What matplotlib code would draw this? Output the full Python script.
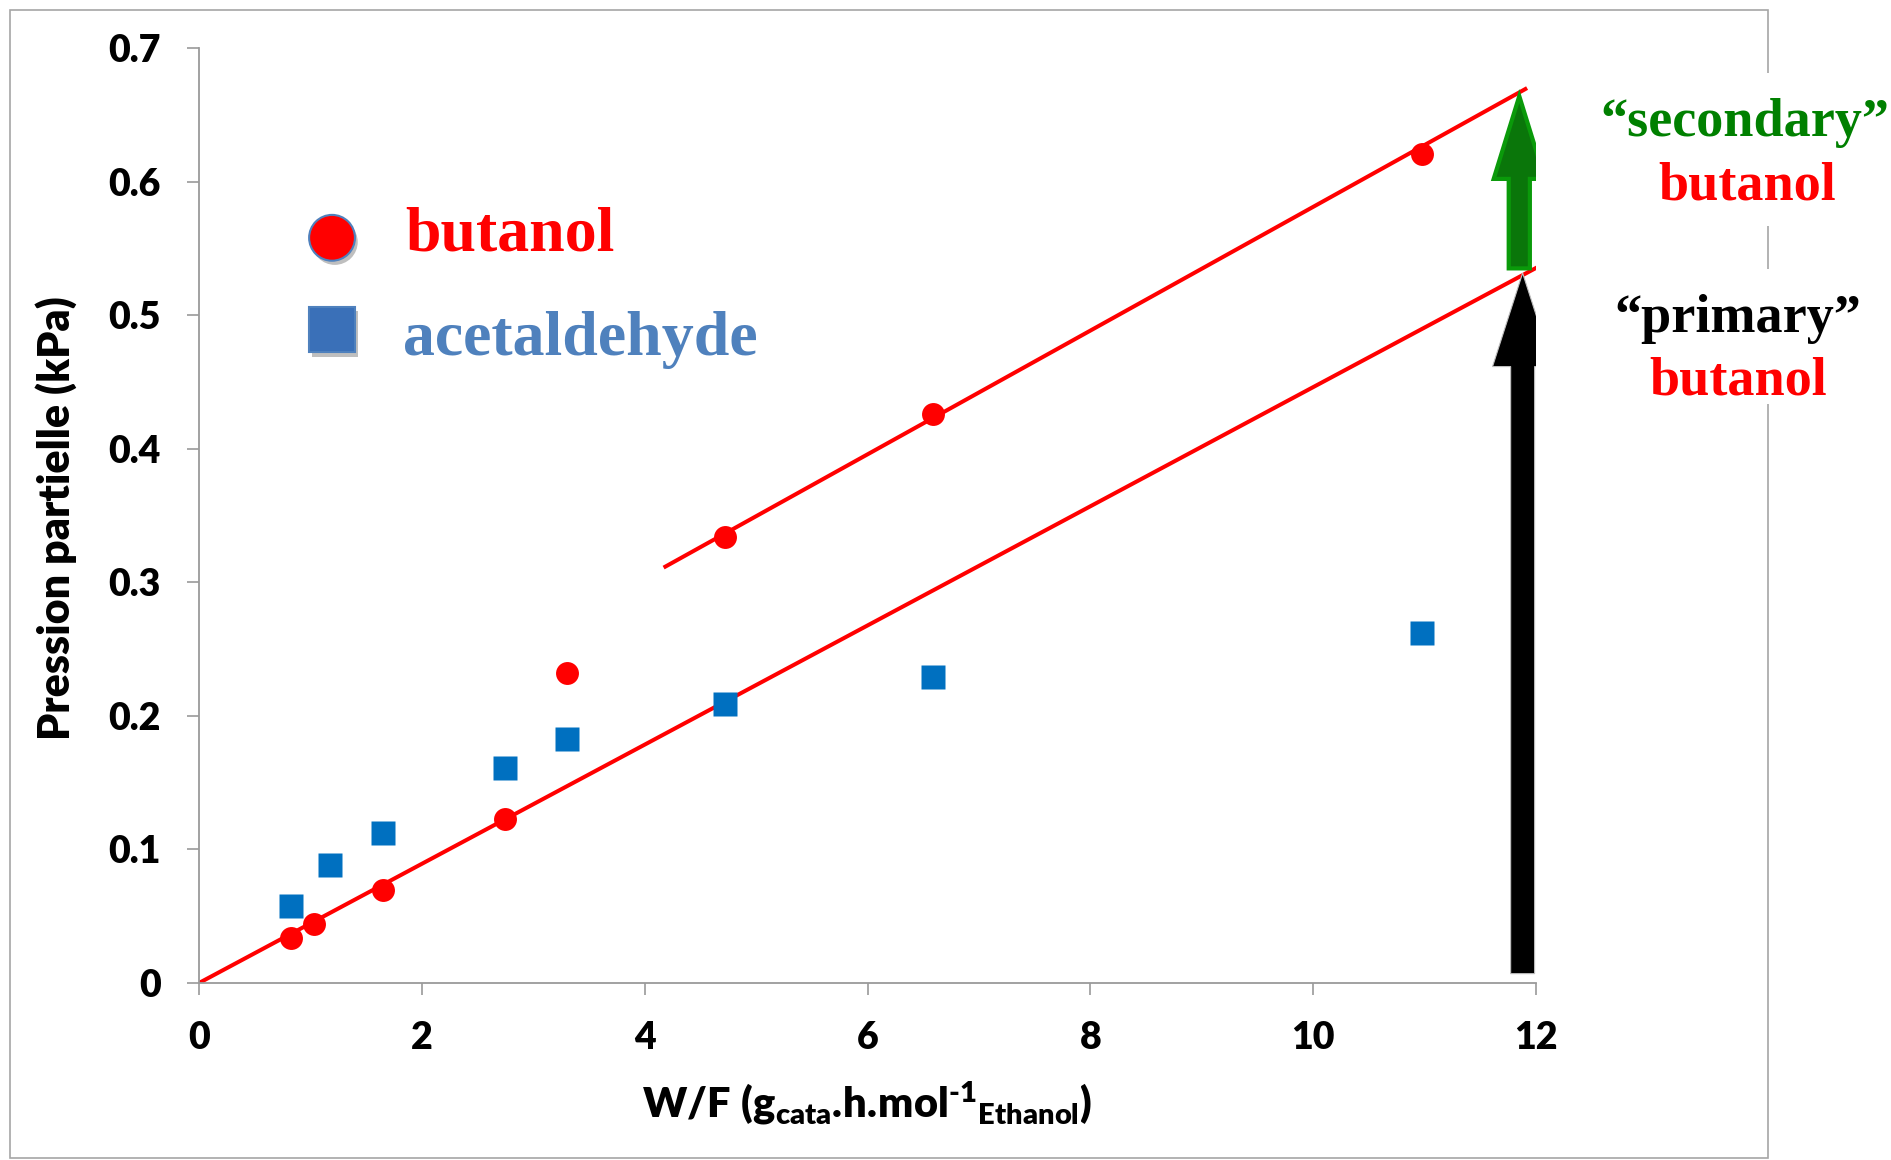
import matplotlib
matplotlib.use("Agg")
import matplotlib.pyplot as plt
from matplotlib.patches import Rectangle, FancyArrow
import matplotlib.patheffects as pe

plt.rcParams['font.family'] = ['Lato', 'DejaVu Sans']
plt.rcParams['font.weight'] = 'heavy'
plt.rcParams['mathtext.fontset'] = 'custom'
plt.rcParams['mathtext.rm'] = 'Lato'
plt.rcParams['mathtext.bf'] = 'Lato:heavy'
plt.rcParams['mathtext.it'] = 'Lato:italic'

# ---- data ----
butanol_x = [0.83, 1.03, 1.65, 2.75, 3.30, 4.72, 6.59, 10.98]
butanol_y = [0.034, 0.044, 0.070, 0.123, 0.232, 0.334, 0.426, 0.621]
acet_x = [0.83, 1.18, 1.65, 2.75, 3.30, 4.72, 6.59, 10.98]
acet_y = [0.058, 0.088, 0.112, 0.161, 0.183, 0.209, 0.229, 0.262]
primary_line_x = [0.0, 12.06]
primary_line_y = [0.0, 0.538]
secondary_line_x = [4.17, 11.92]
secondary_line_y = [0.311, 0.670]
primary_arrow = dict(x=11.88, y0=0.007, y1=0.5315)
secondary_arrow = dict(x=11.85, y0=0.535, y1=0.664)
xticks = [0, 2, 4, 6, 8, 10, 12]
xtick_labels = ["0", "2", "4", "6", "8", "10", "12"]
yticks = [0, 0.1, 0.2, 0.3, 0.4, 0.5, 0.6, 0.7]
ytick_labels = ["0", "0.1", "0.2", "0.3", "0.4", "0.5", "0.6", "0.7"]

W, H = 1891, 1160
fig = plt.figure(figsize=(W / 100, H / 100), dpi=100)
fig.patch.set_facecolor('white')

# outer frame
fig.patches.append(Rectangle((10 / W, 2 / H), (1768 - 10) / W, (1158 - 10) / H,
                             transform=fig.transFigure, fill=False,
                             edgecolor='#A6A6A6', linewidth=1.2, zorder=0))
# white backgrounds behind right-side text (interrupt frame line)
fig.patches.append(Rectangle((1750 / W, 1 - 226 / H), 36 / W, 153 / H,
                             transform=fig.transFigure, facecolor='white',
                             edgecolor='none', zorder=1))
fig.patches.append(Rectangle((1750 / W, 1 - 404 / H), 36 / W, 135 / H,
                             transform=fig.transFigure, facecolor='white',
                             edgecolor='none', zorder=1))

ax = fig.add_axes([199 / W, 1 - 983 / H, (1536 - 199) / W, (983 - 48) / H])
ax.set_xlim(0, 12)
ax.set_ylim(0, 0.7)

# lines
ax.plot(primary_line_x, primary_line_y, color='#FF0000', lw=2.9, zorder=2,
        solid_capstyle='butt')
ax.plot(secondary_line_x, secondary_line_y, color='#FF0000', lw=2.9, zorder=2,
        solid_capstyle='butt')

# points
ax.plot(acet_x, acet_y, linestyle='none', marker='s', markersize=17,
        markerfacecolor='#0070C0', markeredgecolor='none', zorder=3)
ax.plot(butanol_x, butanol_y, linestyle='none', marker='o', markersize=16.5,
        markerfacecolor='#FF0000', markeredgecolor='none', zorder=4)

# arrows
ax.add_patch(FancyArrow(primary_arrow['x'], primary_arrow['y0'], 0,
                        primary_arrow['y1'] - primary_arrow['y0'],
                        width=0.215, head_width=0.54, head_length=0.070,
                        length_includes_head=True, facecolor='black',
                        edgecolor='#BFBFBF', linewidth=0.8, zorder=5))
ax.add_patch(FancyArrow(secondary_arrow['x'], secondary_arrow['y0'], 0,
                        secondary_arrow['y1'] - secondary_arrow['y0'],
                        width=0.19, head_width=0.46, head_length=0.062,
                        length_includes_head=True, facecolor='#0A760A',
                        edgecolor='#0A9A0A', linewidth=3, zorder=5))

# axes styling
for s in ['top', 'right']:
    ax.spines[s].set_visible(False)
for s in ['left', 'bottom']:
    ax.spines[s].set_color('#9A9A9A')
    ax.spines[s].set_linewidth(1.3)
ax.set_xticks(xticks)
ax.set_xticklabels(xtick_labels)
ax.set_yticks(yticks)
ax.set_yticklabels(ytick_labels)
ax.tick_params(axis='both', direction='out', length=8.6, width=1.2,
               color='#9A9A9A', labelsize=27, pad=19)
for lab in ax.get_xticklabels() + ax.get_yticklabels():
    lab.set_fontweight('heavy')

# axis titles
fig.text(56 / W, 1 - 518 / H, 'Pression partielle (kPa)', rotation=90,
         ha='center', va='center', fontsize=31, fontweight='heavy')
fig.text(867 / W, 1 - 1103 / H,
         '$\\mathbf{W/F\\ (g}_{\\mathrm{cata}}\\mathbf{.\\!h.\\!mol}^{\\mathbf{\u2010}\\mathbf{1}}{}_{\\mathrm{Ethanol}}\\mathbf{)}$',
         ha='center', va='center', fontsize=30)

# legend (custom)
shadow = [pe.SimplePatchShadow(offset=(2, -3), shadow_rgbFace='#808080', alpha=0.5),
          pe.Normal()]
ax.plot([0.0995], [0.797], transform=ax.transAxes, marker='o', markersize=33,
        markerfacecolor='#FF0000', markeredgecolor='#4F81BD', markeredgewidth=1.5,
        linestyle='none', clip_on=False, zorder=6, path_effects=shadow)
ax.plot([0.0995], [0.699], transform=ax.transAxes, marker='s', markersize=33,
        markerfacecolor='#3A70B8', markeredgecolor='#4F81BD', markeredgewidth=1.5,
        linestyle='none', clip_on=False, zorder=6, path_effects=shadow)
serif = ['Liberation Serif', 'DejaVu Serif']
ax.text(0.154, 0.783, 'butanol', transform=ax.transAxes, family=serif,
        fontsize=46, fontweight='bold', color='#FF0000', ha='left', va='baseline')
ax.text(0.1526, 0.672, 'acetaldehyde', transform=ax.transAxes, family=serif,
        fontsize=46, fontweight='bold', color='#4F81BD', ha='left', va='baseline')

# right-side annotations
fig.text(1745 / W, 1 - 136 / H, '\u201csecondary\u201d', family=serif, fontsize=39,
         fontweight='bold', color='#008000', ha='center', va='baseline', zorder=2)
fig.text(1747 / W, 1 - 199 / H, 'butanol', family=serif, fontsize=39,
         fontweight='bold', color='#FF0000', ha='center', va='baseline', zorder=2)
fig.text(1738 / W, 1 - 332 / H, '\u201cprimary\u201d', family=serif, fontsize=39,
         fontweight='bold', color='black', ha='center', va='baseline', zorder=2)
fig.text(1738 / W, 1 - 395 / H, 'butanol', family=serif, fontsize=39,
         fontweight='bold', color='#FF0000', ha='center', va='baseline', zorder=2)

fig.savefig('out.png', dpi=100, facecolor='white')
